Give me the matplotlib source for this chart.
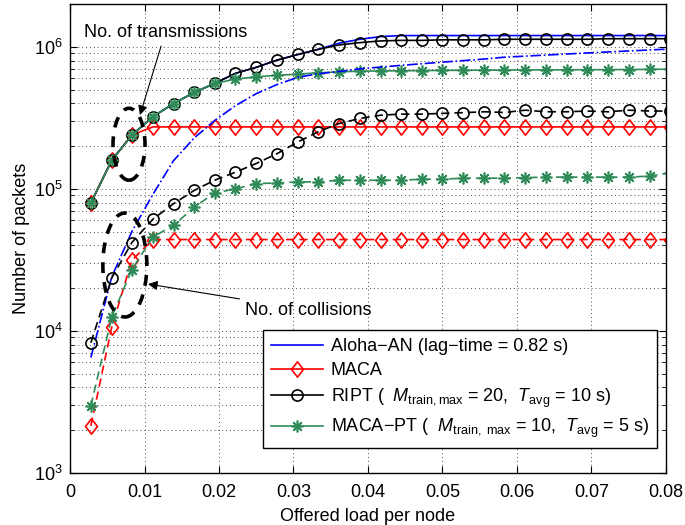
import matplotlib
matplotlib.use("Agg")
import matplotlib.pyplot as plt
from matplotlib.patches import Ellipse
from matplotlib.path import Path
import numpy as np

plt.rcParams['font.family'] = ['Liberation Sans', 'DejaVu Sans']
plt.rcParams['mathtext.fontset'] = 'custom'
plt.rcParams['mathtext.rm'] = 'Liberation Sans'
plt.rcParams['mathtext.it'] = 'Liberation Sans:italic'

# offered load per node
load = [0.0028, 0.0056, 0.0083, 0.0111, 0.0139, 0.0167, 0.0194, 0.0222, 0.0250,
        0.0278, 0.0306, 0.0333, 0.0361, 0.0389, 0.0417, 0.0444, 0.0472, 0.0500,
        0.0528, 0.0556, 0.0583, 0.0611, 0.0639, 0.0667, 0.0694, 0.0722, 0.0750,
        0.0778, 0.0806]

# number of transmissions
aloha_tx = [7.96e4, 1.59e5, 2.39e5, 3.21e5, 3.99e5, 4.78e5, 5.52e5, 6.5e5, 7.17e5,
            8.06e5, 8.83e5, 9.59e5, 1.06e6, 1.13e6, 1.18e6, 1.2e6, 1.2e6, 1.2e6,
            1.2e6, 1.2e6, 1.2e6, 1.2e6, 1.2e6, 1.2e6, 1.2e6, 1.2e6, 1.2e6, 1.2e6, 1.2e6]
maca_tx = [7.96e4, 1.59e5, 2.39e5] + [2.73e5] * 26
ript_tx = [7.96e4, 1.59e5, 2.39e5, 3.21e5, 3.99e5, 4.78e5, 5.52e5, 6.5e5, 7.17e5,
           8.06e5, 8.83e5, 9.59e5, 1.03e6, 1.07e6, 1.10e6, 1.11e6, 1.11e6, 1.12e6,
           1.12e6, 1.12e6, 1.13e6, 1.13e6, 1.13e6, 1.13e6, 1.13e6, 1.14e6, 1.14e6,
           1.14e6, 1.14e6]
macapt_tx = [7.96e4, 1.59e5, 2.39e5, 3.21e5, 3.99e5, 4.78e5, 5.52e5, 5.92e5, 6.15e5,
             6.3e5, 6.42e5, 6.56e5, 6.66e5, 6.74e5, 6.76e5, 6.78e5, 6.8e5, 6.82e5,
             6.84e5, 6.85e5, 6.86e5, 6.87e5, 6.88e5, 6.89e5, 6.9e5, 6.91e5, 6.92e5,
             6.94e5, 6.96e5]

# number of collisions
aloha_col = [6.5e3, 2.4e4, 5.0e4, 9.1e4, 1.58e5, 2.29e5, 3.02e5, 3.85e5, 4.68e5,
             5.43e5, 6.1e5, 6.46e5, 6.7e5, 7.0e5, 7.2e5, 7.4e5, 7.6e5, 7.8e5, 8.0e5,
             8.2e5, 8.45e5, 8.6e5, 8.75e5, 8.9e5, 9.05e5, 9.2e5, 9.35e5, 9.5e5, 9.65e5]
maca_col = [2.15e3, 1.06e4, 3.14e4] + [4.4e4] * 26
ript_col = [8.26e3, 2.36e4, 4.19e4, 6.1e4, 7.87e4, 9.77e4, 1.15e5, 1.31e5, 1.51e5,
            1.77e5, 2.14e5, 2.52e5, 2.88e5, 3.13e5, 3.30e5, 3.36e5, 3.36e5, 3.40e5,
            3.44e5, 3.49e5, 3.45e5, 3.58e5, 3.49e5, 3.49e5, 3.53e5, 3.49e5, 3.58e5,
            3.53e5, 3.53e5]
macapt_col = [2.98e3, 1.25e4, 2.7e4, 4.58e4, 5.53e4, 7.45e4, 9.35e4, 1.0e5, 1.09e5,
              1.1e5, 1.12e5, 1.12e5, 1.15e5, 1.15e5, 1.15e5, 1.15e5, 1.17e5, 1.17e5,
              1.19e5, 1.19e5, 1.19e5, 1.2e5, 1.21e5, 1.21e5, 1.21e5, 1.21e5, 1.21e5,
              1.23e5, 1.3e5]

labels = ['Aloha\u2212AN (lag\u2212time = 0.82 s)',
          'MACA',
          'RIPT ( \u00a0$M_{\\mathrm{train,max}}$ = 20,  $T_{\\mathrm{avg}}$ = 10 s)',
          'MACA\u2212PT ( \u00a0$M_{\\mathrm{train,\\ max}}$ = 10,  $T_{\\mathrm{avg}}$ = 5 s)']

green = '#2e8b57'
star = (8, 2, 0)
diamond = Path([(0, 1), (0.78, 0), (0, -1), (-0.78, 0), (0, 1)],
               [Path.MOVETO, Path.LINETO, Path.LINETO, Path.LINETO, Path.CLOSEPOLY])
dash = (0, (5, 3))
fs = 13

fig = plt.figure(figsize=(6.85, 5.25), dpi=100)
ax = fig.add_axes([0.1022, 0.099, 0.870, 0.8933])

ax.plot(load, aloha_tx, '-', color='b', lw=1.2, label=labels[0])
ax.plot(load, maca_tx, '-', color='r', lw=1.2, marker=diamond, ms=11, mfc='none',
        mew=1.2, label=labels[1])
ax.plot(load, ript_tx, '-', color='k', lw=1.2, marker='o', ms=8, mfc='none',
        mew=1.2, label=labels[2])
ax.plot(load, macapt_tx, '-', color=green, lw=1.2, marker=star, ms=8.5,
        mew=1.2, label=labels[3])

ax.plot(load, aloha_col, '-.', color='b', lw=1.2)
ax.plot(load, maca_col, ls=dash, color='r', lw=1.2, marker=diamond, ms=11,
        mfc='none', mew=1.2)
ax.plot(load, ript_col, ls=dash, color='k', lw=1.2, marker='o', ms=8,
        mfc='none', mew=1.2)
ax.plot(load, macapt_col, ls=dash, color=green, lw=1.2, marker=star, ms=8.5, mew=1.2)

ax.set_yscale('log')
ax.set_xlim(0, 0.08)
ax.set_ylim(1e3, 2e6)
ax.set_xticks(np.arange(0, 0.081, 0.01))
ax.set_xticklabels(['0', '0.01', '0.02', '0.03', '0.04', '0.05', '0.06', '0.07', '0.08'])
ax.tick_params(which='both', direction='in', top=True, right=True, labelsize=fs)
ax.tick_params(which='major', length=5)
ax.tick_params(axis='x', which='major', pad=8)
ax.tick_params(axis='y', which='major', pad=5)
ax.tick_params(which='minor', length=3)
ax.grid(True, which='major', linestyle=(0, (1, 3)), color='k', lw=0.7, alpha=0.7)
ax.grid(True, which='minor', axis='y', linestyle=(0, (1, 3)), color='k', lw=0.7, alpha=0.7)
for s in ax.spines.values():
    s.set_linewidth(1.0)

ax.set_xlabel('Offered load per node', fontsize=fs, labelpad=5)
ax.set_ylabel('Number of packets', fontsize=fs, labelpad=3)

# dashed rings around the transmission and collision groups
ax.add_patch(Ellipse((0.099, 0.701), 0.0537, 0.1535, transform=ax.transAxes,
                     fill=False, ec='k', lw=2.6, ls=(0, (3, 2.5)), zorder=5))
ax.add_patch(Ellipse((0.092, 0.4435), 0.0738, 0.2217, transform=ax.transAxes,
                     fill=False, ec='k', lw=2.6, ls=(0, (3, 2.5)), zorder=5))

ax.annotate('No. of transmissions', xy=(0.1174, 0.7633), xycoords='axes fraction',
            xytext=(0.160, 0.94), textcoords='axes fraction', fontsize=fs,
            ha='center', va='center',
            arrowprops=dict(arrowstyle='-|>', color='k', lw=0.8, mutation_scale=14,
                            shrinkA=2, shrinkB=0))
ax.annotate('No. of collisions', xy=(0.1309, 0.403), xycoords='axes fraction',
            xytext=(0.2936, 0.3475), textcoords='axes fraction', fontsize=fs,
            ha='left', va='center',
            arrowprops=dict(arrowstyle='-|>', color='k', lw=0.8, mutation_scale=14,
                            shrinkA=2, shrinkB=0))

leg = ax.legend(loc='lower right', bbox_to_anchor=(0.985, 0.053), borderaxespad=0,
                fontsize=fs, fancybox=False, framealpha=1, edgecolor='k',
                handlelength=2.9, handletextpad=0.4, labelspacing=0.4, borderpad=0.45)
leg.get_frame().set_linewidth(1.0)

fig.savefig('out.png', dpi=100)
